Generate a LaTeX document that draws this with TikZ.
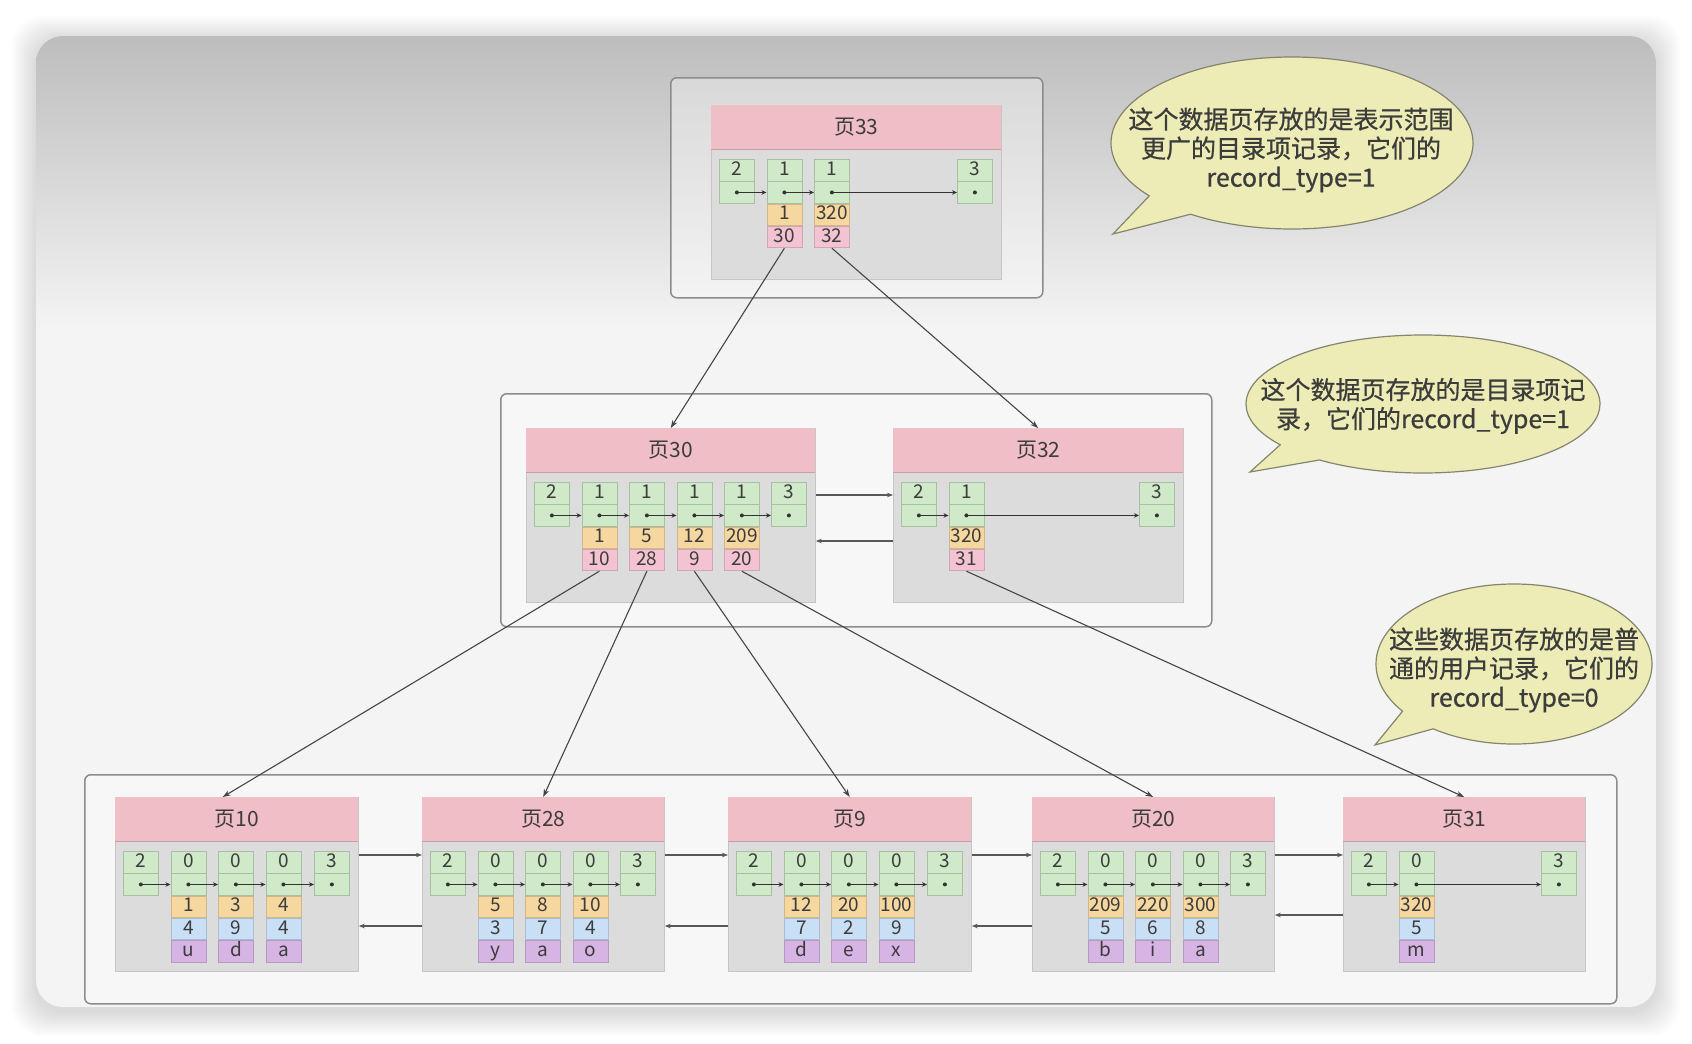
\documentclass[tikz,border=0pt]{standalone}
\usepackage{fontspec}
\setmainfont{Noto Sans CJK SC}
\newfontfamily\bubfont[FakeBold=0.6]{Noto Sans CJK SC}
\usetikzlibrary{arrows.meta,calc,shapes.callouts}
\definecolor{gA}{HTML}{BDBDBD}
\definecolor{gB}{HTML}{F4F4F4}
\definecolor{framec}{HTML}{8C8C8C}
\definecolor{headc}{HTML}{F0BEC6}
\definecolor{headl}{HTML}{C9A0A6}
\definecolor{bodyc}{HTML}{DCDCDC}
\definecolor{bodyl}{HTML}{C6C6C6}
\definecolor{gfill}{HTML}{CFE9C9}
\definecolor{gline}{HTML}{A8C0A2}
\definecolor{yfill}{HTML}{F6D7A0}
\definecolor{pfill}{HTML}{F4C3D2}
\definecolor{bfill}{HTML}{C8DFF6}
\definecolor{vfill}{HTML}{D6B4E4}
\definecolor{txt}{HTML}{3C3C3C}
\definecolor{ptrc}{HTML}{333333}
\definecolor{linkc}{HTML}{454545}
\definecolor{bub}{HTML}{EDECB6}
\definecolor{bubl}{HTML}{85856F}
\newcommand\cellf{\fontsize{19}{22}\selectfont}
\newcommand\headf{\fontsize{21}{25}\selectfont}
\newcommand\bubf{\bubfont\fontsize{25}{29}\selectfont}
\tikzset{
  rcell/.style={draw=gline, line width=0.8pt, minimum width=35pt, minimum height=21.5pt, inner sep=0pt, font=\cellf, text=txt, text height=13pt, text depth=3pt},
  gcell/.style={rcell, fill=gfill, anchor=north west},
  kcell/.style={rcell, fill=yfill, draw=yfill!85!black, anchor=north},
  pcell/.style={rcell, fill=pfill, draw=pfill!85!black, anchor=north},
  bcell/.style={rcell, fill=bfill, draw=bfill!85!black, anchor=north},
  vcell/.style={rcell, fill=vfill, draw=vfill!85!black, anchor=north},
  pgbody/.style={draw=bodyl, line width=0.8pt, fill=bodyc, minimum height=174pt, inner sep=0pt},
  pghead/.style={fill=headc, minimum height=44pt, inner sep=0pt, font=\headf, text=txt},
  nptr/.style={-{Stealth[length=5pt,width=4.5pt]}, line width=1pt, draw=ptrc},
  plink/.style={-{Stealth[length=8pt,width=5.5pt]}, line width=1.1pt, draw=linkc},
  hlink/.style={-{Stealth[length=6pt,width=4.5pt]}, line width=1.1pt, draw=linkc!90},
  cont/.style={draw=framec, line width=1.5pt, rounded corners=6pt, fill=white, fill opacity=0.35, inner sep=0pt, anchor=north west},
  bubble/.style={ellipse callout, draw=bubl, line width=1.2pt, fill=bub, inner sep=0pt, callout pointer arc=18},
  bubt/.style={font=\bubf, text=txt, align=center, inner sep=0pt},
}
\newcommand\rec[4]{%
  \node[gcell] (#1a) at (#2,#3) {#4};
  \node[gcell] (#1b) at (#1a.south west) {};
  \fill[ptrc] (#1b.center) circle (2pt);
}
\newcommand\pg[5]{%
  \node[pgbody, minimum width=#4pt, anchor=north west] (#1) at (#2,#3) {};
  \node[pghead, minimum width=#4pt, anchor=north west] (#1h) at (#2,#3) {#5};
  \draw[headl, line width=1pt] (#1h.south west) -- (#1h.south east);
}
\newcommand\innerpg[7]{%
  \pg{#1}{#2}{#3}{#4}{#5}
  \rec{#1r0}{#2+8}{#3+54}{2}
  \foreach [count=\n] \xk/\xp in {#7} {
    \pgfmathtruncatemacro\pv{\n-1}
    \rec{#1r\n}{#2+8+47.5*\n}{#3+54}{1}
    \node[kcell] (#1k\n) at (#1r\n b.south) {\xk};
    \node[pcell] (#1p\n) at (#1k\n.south) {\xp};
    \draw[nptr] (#1r\pv b.center) -- (#1r\n b.west);
  }
  \rec{#1s}{#2+#4-44}{#3+54}{3}
  \draw[nptr] (#1r#6b.center) -- (#1sb.west);
}
\newcommand\leafpg[7]{%
  \pg{#1}{#2}{#3}{#4}{#5}
  \rec{#1r0}{#2+8}{#3+54}{2}
  \foreach [count=\n] \xk/\xv/\xc in {#7} {
    \pgfmathtruncatemacro\pv{\n-1}
    \rec{#1r\n}{#2+8+47.5*\n}{#3+54}{0}
    \node[kcell] (#1k\n) at (#1r\n b.south) {\xk};
    \node[bcell] (#1v\n) at (#1k\n.south) {\xv};
    \node[vcell] (#1c\n) at (#1v\n.south) {\xc};
    \draw[nptr] (#1r\pv b.center) -- (#1r\n b.west);
  }
  \rec{#1s}{#2+#4-44}{#3+54}{3}
  \draw[nptr] (#1r#6b.center) -- (#1sb.west);
}
\begin{document}
\begin{tikzpicture}[x=1pt,y=-1pt]
\useasboundingbox (0,0) rectangle (1692,1044);
\fill[white] (0,0) rectangle (1692,1044);
\foreach \s in {1,...,12} {\fill[black, opacity=0.012, rounded corners=30pt] (36-2*\s,40-2*\s) rectangle (1656+2*\s,1012+2*\s);}
\begin{scope}
\clip[rounded corners=27pt] (36,36) rectangle (1656,1007);
\shade[top color=gA, bottom color=gB] (36,36) rectangle (1656,330);
\fill[gB] (36,329) rectangle (1656,1007);
\end{scope}
% containers
\node[cont, minimum width=372pt, minimum height=220pt] (c1) at (670,77) {};
\node[cont, minimum width=711pt, minimum height=233pt] (c2) at (500,393) {};
\node[cont, minimum width=1532pt, minimum height=229pt] (c3) at (84,774) {};
% pages
\innerpg{p33}{711}{105}{290}{页33}{2}{1/30,320/32}
\innerpg{p30}{526}{428}{289}{页30}{4}{1/10,5/28,12/9,209/20}
\innerpg{p32}{893}{428}{290}{页32}{1}{320/31}
\leafpg{p10}{115}{797}{243}{页10}{3}{1/4/u,3/9/d,4/4/a}
\leafpg{p28}{422}{797}{242}{页28}{3}{5/3/y,8/7/a,10/4/o}
\leafpg{p9}{728}{797}{243}{页9}{3}{12/7/d,20/2/e,100/9/x}
\leafpg{p20}{1032}{797}{242}{页20}{3}{209/5/b,220/6/i,300/8/a}
\leafpg{p31}{1343}{797}{242}{页31}{1}{320/5/m}
% sibling links
\draw[hlink] ($(p30.north east)+(0,67)$) -- ($(p32.north west)+(0,67)$);
\draw[hlink] ($(p32.north west)+(0,113)$) -- ($(p30.north east)+(0,113)$);
\draw[hlink] ($(p10.north east)+(0,58)$) -- ($(p28.north west)+(0,58)$);
\draw[hlink] ($(p28.north west)+(0,129)$) -- ($(p10.north east)+(0,129)$);
\draw[hlink] ($(p28.north east)+(0,58)$) -- ($(p9.north west)+(0,58)$);
\draw[hlink] ($(p9.north west)+(0,129)$) -- ($(p28.north east)+(0,129)$);
\draw[hlink] ($(p9.north east)+(0,58)$) -- ($(p20.north west)+(0,58)$);
\draw[hlink] ($(p20.north west)+(0,129)$) -- ($(p9.north east)+(0,129)$);
\draw[hlink] ($(p20.north east)+(0,58)$) -- ($(p31.north west)+(0,58)$);
\draw[hlink] ($(p31.north west)+(0,118)$) -- ($(p20.north east)+(0,118)$);
% parent-child links
\draw[plink] (p33p1.south) -- (p30h.north);
\draw[plink] (p33p2.south) -- (p32h.north);
\draw[plink] (p30p1.south) -- ($(p10h.north)+(-14,0)$);
\draw[plink] (p30p2.south) -- (p28h.north);
\draw[plink] (p30p3.south) -- (p9h.north);
\draw[plink] (p30p4.south) -- (p20h.north);
\draw[plink] (p32p1.south) -- (p31h.north);
% bubbles
\node[bubble, minimum width=362pt, minimum height=172pt, callout absolute pointer={(1113,234)}] (b1) at (1292,143) {};
\node[bubt] (t1) at (1291,150) {这个数据页存放的是表示范围\\更广的目录项记录，它们的\\record\_type=1};
\node[bubble, minimum width=354pt, minimum height=138pt, callout absolute pointer={(1250,472)}] (b2) at (1423,404) {};
\node[bubt] (t2) at (1423,406) {这个数据页存放的是目录项记\\录，它们的record\_type=1};
\node[bubble, minimum width=276pt, minimum height=160pt, callout absolute pointer={(1375,745)}] (b3) at (1514,664) {};
\node[bubt] (t3) at (1514,670) {这些数据页存放的是普\\通的用户记录，它们的\\record\_type=0};
\end{tikzpicture}
\end{document}
